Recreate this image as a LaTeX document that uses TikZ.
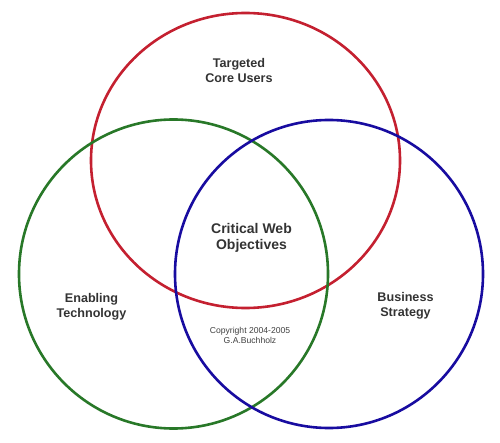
\documentclass[tikz,border=0pt]{standalone}
\usepackage{fontspec}
\setmainfont{Liberation Sans}
\begin{document}
\begin{tikzpicture}[x=1pt,y=-1pt,
  ring/.style={line width=2.6pt},
  label/.style={align=center,text=black!80,font=\bfseries\fontsize{12.6}{15}\selectfont,inner sep=0pt},
  small/.style={align=center,text=black!75,font=\fontsize{8.6}{10}\selectfont,inner sep=0pt}]
\definecolor{vred}{RGB}{196,32,48}
\definecolor{vgreen}{RGB}{40,120,40}
\definecolor{vblue}{RGB}{24,12,160}
\useasboundingbox (0,0) rectangle (500,443);
\draw[ring,vred] (245.5,160.5) ellipse [x radius=154.5, y radius=147.5];
\draw[ring,vgreen] (173.5,274) circle [radius=154.5];
\draw[ring,vblue] (329,274) circle [radius=154];
\node[label] (core) at (239,71) {Targeted\\Core Users};
\node[label,font=\bfseries\fontsize{14}{16.5}\selectfont] (crit) at (251.5,238) {Critical Web\\Objectives};
\node[label] (tech) at (91.5,307) {Enabling\\Technology};
\node[label] (biz) at (405.5,306) {Business\\Strategy};
\node[small] (copy) at (250,335) {Copyright 2004-2005\\G.A.Buchholz};
\end{tikzpicture}
\end{document}
